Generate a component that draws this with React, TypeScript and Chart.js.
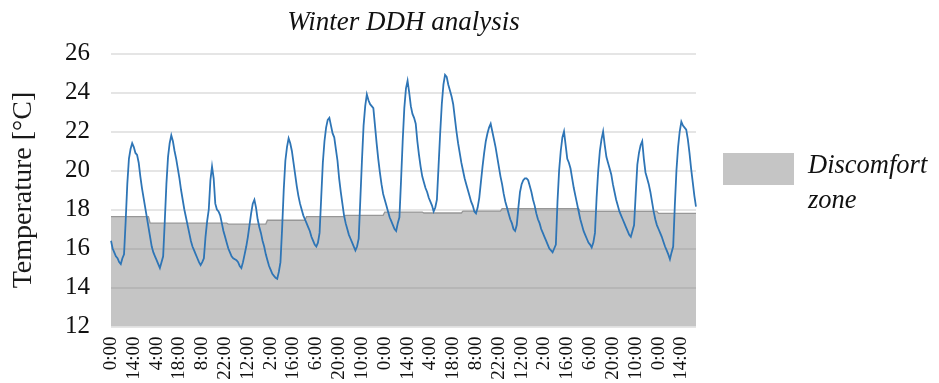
import React, { useEffect, useRef } from "react";
import { Chart, registerables } from "chart.js";

Chart.register(...registerables);

const SERIF = '"Liberation Serif", "Times New Roman", serif';

// Hourly indoor temperature, one array per day (°C)
const day01 = [16.4, 16.0, 15.8, 15.6, 15.5, 15.3, 15.2, 15.5, 15.7, 17.4, 19.3, 20.6, 21.1, 21.4, 21.2, 20.9, 20.8, 20.4, 19.7, 19.1, 18.6, 18.1, 17.6, 17.1];
const day02 = [16.6, 16.1, 15.8, 15.6, 15.4, 15.2, 15.0, 15.3, 15.6, 17.4, 19.3, 20.7, 21.4, 21.8, 21.5, 21.0, 20.6, 20.1, 19.6, 19.0, 18.5, 18.0, 17.6, 17.2];
const day03 = [16.8, 16.4, 16.1, 15.9, 15.7, 15.5, 15.3, 15.15, 15.3, 15.5, 16.6, 17.4, 18.0, 19.5, 20.2, 19.6, 18.3, 18.0, 17.9, 17.7, 17.3, 16.9, 16.6, 16.3];
const day04 = [16.0, 15.8, 15.6, 15.5, 15.45, 15.4, 15.3, 15.1, 15.0, 15.3, 15.7, 16.1, 16.6, 17.2, 17.8, 18.3, 18.5, 18.1, 17.5, 17.1, 16.8, 16.4, 16.1, 15.7];
const day05 = [15.4, 15.1, 14.9, 14.7, 14.6, 14.5, 14.45, 14.8, 15.3, 17.0, 19.0, 20.5, 21.2, 21.65, 21.4, 21.0, 20.4, 19.8, 19.2, 18.7, 18.3, 18.0, 17.7, 17.5];
const day06 = [17.3, 17.1, 16.9, 16.6, 16.4, 16.2, 16.1, 16.3, 16.8, 18.6, 20.4, 21.5, 22.2, 22.6, 22.7, 22.3, 21.9, 21.7, 21.1, 20.5, 19.6, 18.9, 18.3, 17.7];
const day07 = [17.3, 17.0, 16.7, 16.5, 16.3, 16.1, 15.9, 16.1, 16.5, 18.5, 20.5, 22.3, 23.3, 23.9, 23.6, 23.4, 23.3, 23.2, 22.3, 21.4, 20.6, 19.9, 19.3, 18.8];
const day08 = [18.5, 18.2, 17.9, 17.6, 17.4, 17.2, 17.0, 16.9, 17.3, 17.6, 19.5, 21.5, 23.2, 24.2, 24.6, 24.0, 23.3, 22.9, 22.7, 22.4, 21.5, 20.8, 20.2, 19.7];
const day09 = [19.4, 19.1, 18.9, 18.6, 18.4, 18.2, 17.9, 18.1, 18.5, 20.2, 21.9, 23.4, 24.4, 24.9, 24.8, 24.4, 24.1, 23.8, 23.4, 22.7, 22.0, 21.4, 20.9, 20.4];
const day10 = [20.0, 19.6, 19.3, 19.0, 18.7, 18.4, 18.2, 17.9, 17.8, 18.1, 18.6, 19.4, 20.2, 20.9, 21.5, 21.9, 22.2, 22.4, 22.0, 21.6, 21.2, 20.7, 20.2, 19.7];
const day11 = [19.3, 18.8, 18.4, 18.1, 17.8, 17.5, 17.3, 17.0, 16.9, 17.2, 18.1, 18.9, 19.3, 19.5, 19.6, 19.6, 19.5, 19.2, 18.9, 18.5, 18.2, 17.8, 17.5, 17.3];
const day12 = [17.0, 16.8, 16.6, 16.4, 16.2, 16.0, 15.9, 15.8, 16.0, 16.2, 18.4, 20.0, 21.0, 21.7, 22.0, 21.3, 20.6, 20.4, 20.1, 19.6, 19.1, 18.7, 18.3, 17.9];
const day13 = [17.5, 17.2, 16.9, 16.7, 16.5, 16.3, 16.2, 16.05, 16.3, 16.8, 18.6, 20.0, 21.0, 21.6, 22.0, 21.3, 20.7, 20.4, 20.1, 19.8, 19.3, 18.9, 18.5, 18.2];
const day14 = [17.9, 17.7, 17.5, 17.3, 17.1, 16.9, 16.7, 16.6, 16.9, 17.2, 18.8, 20.3, 20.9, 21.3, 21.5, 20.6, 19.9, 19.6, 19.3, 18.9, 18.4, 17.9, 17.5, 17.2];
const day15 = [17.0, 16.8, 16.6, 16.35, 16.1, 15.9, 15.7, 15.45, 15.8, 16.1, 18.2, 20.0, 21.2, 22.0, 22.5, 22.3, 22.2, 22.1, 21.6, 20.9, 20.1, 19.4, 18.7, 18.15];

// Daily lower comfort limit (top of the discomfort zone), °C
const dailyThreshold = [17.63, 17.3, 17.3, 17.25, 17.45, 17.63, 17.7, 17.87, 17.82, 17.92, 18.05, 18.05, 17.9, 17.9, 17.8];

// Tick labels shown every 14 hours
const tickLabels = [
  "0:00", "14:00", "4:00", "18:00", "8:00", "22:00", "12:00", "2:00", "16:00", "6:00", "20:00", "10:00",
  "0:00", "14:00", "4:00", "18:00", "8:00", "22:00", "12:00", "2:00", "16:00", "6:00", "20:00", "10:00",
  "0:00", "14:00",
];
const TICK_EVERY = 14;

const temperature = [
  ...day01, ...day02, ...day03, ...day04, ...day05, ...day06, ...day07, ...day08,
  ...day09, ...day10, ...day11, ...day12, ...day13, ...day14, ...day15,
];
const hourLabels = temperature.map((_, i) => `${i % 24}:00`);
const threshold = temperature.map((_, i) => dailyThreshold[Math.floor(i / 24)]);

const overlayPlugin = {
  id: "overlay",
  afterDraw(chart: any) {
    const { ctx, chartArea } = chart;
    ctx.save();
    // title
    ctx.fillStyle = "#111";
    ctx.font = `italic 27px ${SERIF}`;
    ctx.textAlign = "center";
    ctx.textBaseline = "alphabetic";
    ctx.fillText("Winter DDH analysis", (chartArea.left + chartArea.right) / 2, 22);
    // legend
    ctx.fillStyle = "#c5c5c5";
    ctx.fillRect(715, 145, 71, 32);
    ctx.fillStyle = "#111";
    ctx.font = `italic 26.5px ${SERIF}`;
    ctx.textAlign = "left";
    ctx.fillText("Discomfort", 800, 165);
    ctx.fillText("zone", 800, 200);
    ctx.restore();
  },
};

export default function App() {
  const ref = useRef<HTMLCanvasElement>(null);

  useEffect(() => {
    document.documentElement.style.overflow = "hidden";
    const chart = new Chart(ref.current as HTMLCanvasElement, {
      type: "line",
      data: {
        labels: hourLabels,
        datasets: [
          {
            label: "Temperature",
            data: temperature,
            borderColor: "#2e75b6",
            borderWidth: 1.8,
            pointRadius: 0,
            fill: false,
            order: 1,
          },
          {
            label: "Discomfort zone",
            data: threshold,
            borderColor: "#979797",
            borderWidth: 1.3,
            backgroundColor: "rgba(110,110,110,0.4)",
            fill: "start",
            pointRadius: 0,
            order: 2,
          },
        ],
      },
      options: {
        animation: false,
        responsive: true,
        maintainAspectRatio: false,
        layout: { padding: { top: 45.5, right: 243, bottom: 0, left: 0 } },
        plugins: {
          legend: { display: false },
          title: { display: false },
          tooltip: { enabled: false },
        },
        scales: {
          x: {
            grid: { display: false, drawTicks: false },
            border: { display: false },
            ticks: {
              autoSkip: false,
              maxRotation: 90,
              minRotation: 90,
              padding: 10,
              color: "#111",
              font: { family: SERIF, size: 19 },
              callback: (_v: any, i: number) => (i % TICK_EVERY === 0 ? tickLabels[i / TICK_EVERY] : ""),
            },
            afterFit: (s: any) => {
              s.height = 56.5;
            },
          },
          y: {
            min: 12,
            max: 26,
            ticks: {
              stepSize: 2,
              padding: 21,
              color: "#111",
              font: { family: SERIF, size: 25 },
            },
            grid: { color: "rgba(0,0,0,0.1)", lineWidth: 2, drawTicks: false },
            border: { display: false },
            title: {
              display: true,
              text: "Temperature [°C]",
              color: "#1a1a1a",
              font: { family: SERIF, size: 28, lineHeight: 1 },
              padding: { top: 2, bottom: 0 },
            },
            afterFit: (s: any) => {
              s.width = 103;
            },
          },
        },
      },
      plugins: [overlayPlugin],
    });
    return () => chart.destroy();
  }, []);

  return (
    <div style={{ width: 931, height: 375 }}>
      <canvas ref={ref} />
    </div>
  );
}
